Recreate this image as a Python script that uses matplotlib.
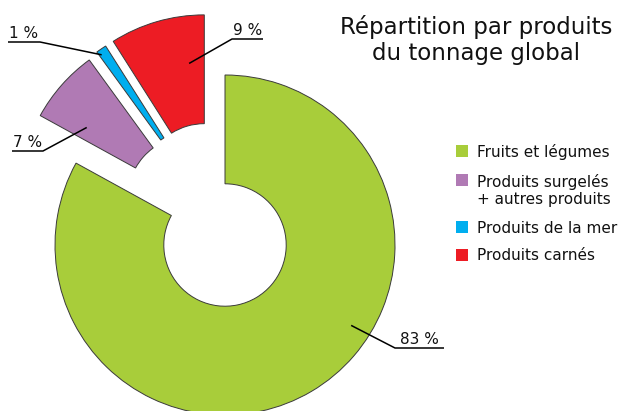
import matplotlib.pyplot as plt
from matplotlib.patches import Rectangle
import numpy as np

# data
labels = ['Fruits et légumes', 'Produits surgelés\n+ autres produits',
          'Produits de la mer', 'Produits carnés']
values = [83, 7, 1, 9]
pct_labels = ['83 %', '7 %', '1 %', '9 %']
colors = ['#a8cd3a', '#b07ab4', '#00aeef', '#ed1c24']
# pulled-out slices: distance (in radii) and direction (degrees)
explode_dist = [0, 0.35, 0.366, 0.374]
explode_dir = [0, 127, 117, 109]

plt.rcParams['font.family'] = ['DejaVu Sans']

W, H = 624, 411
cx, cy, R = 225, 245, 170   # donut centre and radius in pixels


def px(x, y):
    # pixel position (from top-left) -> data coords
    return (x - cx) / R, (cy - y) / R


fig = plt.figure(figsize=(W / 100, H / 100), dpi=100)
ax = fig.add_axes([0, 0, 1, 1])

wedges, _ = ax.pie(values, colors=colors, startangle=90,
                   counterclock=False, radius=1,
                   wedgeprops=dict(width=0.64, edgecolor='#3a3a3a', linewidth=0.7))
for w, d, a in zip(wedges, explode_dist, explode_dir):
    w.set_center((d * np.cos(np.radians(a)), d * np.sin(np.radians(a))))
ax.set_xlim(-cx / R, (W - cx) / R)
ax.set_ylim((cy - H) / R, cy / R)
ax.axis('off')

# leader lines: anchor inside wedge (fraction along angle, fraction of radius)
anchors = [(0.59, 0.88), (0.78, 0.73), (0.78, 0.97), (0.22, 0.72)]
# elbow x, elbow y, end x (pixels)
elbows = [(395, 348, 444), (43, 151, 12), (40, 42, 8), (232, 39, 263)]

for w, (f, rho), (ex, ey, endx), lab in zip(wedges, anchors, elbows, pct_labels):
    th = np.radians(w.theta1 + f * (w.theta2 - w.theta1))
    ax0 = w.center[0] + rho * w.r * np.cos(th)
    ay0 = w.center[1] + rho * w.r * np.sin(th)
    x1, y1 = px(ex, ey)
    x2, y2 = px(endx, ey)
    ax.plot([ax0, x1, x2], [ay0, y1, y2], color='black', lw=1.1,
            solid_capstyle='butt')
    tx, ty = px((ex + endx) / 2, ey - 4)
    ax.text(tx, ty, lab, ha='center', va='baseline', fontsize=11, color='#111111')

# title
for line, yb in zip(['Répartition par produits', 'du tonnage global'], [34, 60]):
    fig.text(476 / W, 1 - yb / H, line, ha='center', va='baseline',
             fontsize=16.5, color='#111111')

# legend
leg_y = [151, 180, 227, 255]
line_h = 18   # px between lines of a two-line label
for lab, col, y in zip(labels, colors, leg_y):
    ax.add_patch(Rectangle(px(456, y + 6), 12 / R, 12 / R, color=col, lw=0))
    # multi-line text is placed by the baseline of its last line
    tx, ty = px(477, y + 5.5 + line_h * lab.count('\n'))
    ax.text(tx, ty, lab, ha='left', va='baseline', fontsize=11,
            color='#111111', linespacing=1.15)

fig.savefig('out.png', dpi=100)
